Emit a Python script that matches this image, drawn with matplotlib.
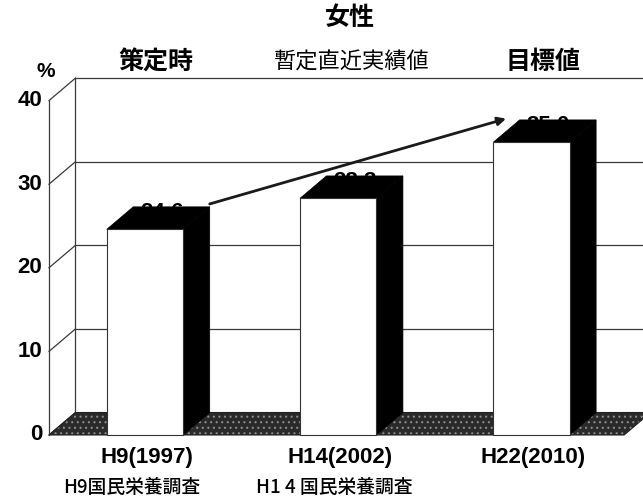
import matplotlib
matplotlib.use("Agg")
import matplotlib.pyplot as plt
from matplotlib.patches import Polygon, Rectangle

# ---- data -------------------------------------------------------------
categories = ["H9(1997)", "H14(2002)", "H22(2010)"]
values = [24.6, 28.3, 35.0]
value_labels = ["24.6", "28.3", "35.0"]
stage_labels = ["策定時", "暫定直近実績値", "目標値"]
survey_labels = ["H9国民栄養調査", "H1 4 国民栄養調査", ""]
y_ticks = [0, 10, 20, 30, 40]
title = "女性"

# ---- fonts ------------------------------------------------------------
JP = ["Noto Sans CJK JP", "DejaVu Sans"]
NUM = ["Liberation Sans", "DejaVu Sans"]
plt.rcParams["hatch.linewidth"] = 0.8

# ---- pseudo-3D layout (data units) ------------------------------------
W, H = 643, 497
fig = plt.figure(figsize=(W / 100, H / 100), dpi=100)
ax = fig.add_axes([0, 0, 1, 1])
ax.axis("off")

step_px, x0_px = 193.2, 145.0          # pixels per category, category 0 position
unit_px, y0_px = 8.36, 435.0           # pixels per value unit, baseline position
ax.set_xlim(-x0_px / step_px, (W - x0_px) / step_px)
ax.set_ylim((y0_px - H) / unit_px, y0_px / unit_px)

DX, DY = 0.137, 2.69                   # depth offset
HALF = 0.198                           # half bar width
XL, XR = -0.497, 2.48                  # front wall / floor extent
YMAX = y_ticks[-1]
FAR = 3.0
grid_kw = dict(color="#3a3a3a", lw=0.9, zorder=1)

# back wall and left side wall
for v in y_ticks:
    ax.plot([XL + DX, FAR], [v + DY, v + DY], **grid_kw)
    ax.plot([XL, XL + DX], [v, v + DY], **grid_kw)
ax.plot([XL, XL], [0, YMAX], **grid_kw)
ax.plot([XL + DX, XL + DX], [DY, YMAX + DY], **grid_kw)

# floor
floor = [(XL, 0), (XR, 0), (XR + DX, DY), (XL + DX, DY)]
ax.add_patch(Polygon(floor, closed=True, facecolor="#2a2a2a",
                     edgecolor="#8c8c8c", hatch="...", lw=0, zorder=2))
ax.add_patch(Polygon(floor, closed=True, fill=False,
                     edgecolor="#222222", lw=0.8, zorder=2))

# bars
for i, v in enumerate(values):
    l, r = i - HALF, i + HALF
    side = [(r, 0), (r + DX, DY), (r + DX, v + DY), (r, v)]
    top = [(l, v), (r, v), (r + DX, v + DY), (l + DX, v + DY)]
    ax.text(i + DX / 2 + 0.02, v + DY - 1.35, value_labels[i], ha="center",
            va="baseline", fontsize=16, fontweight="bold", family=NUM,
            color="black", zorder=2.5)
    ax.add_patch(Polygon(side, closed=True, facecolor="black",
                         edgecolor="black", lw=0.5, zorder=3))
    ax.add_patch(Polygon(top, closed=True, facecolor="black",
                         edgecolor="black", lw=0.5, zorder=3))
    ax.add_patch(Rectangle((l, 0), 2 * HALF, v, facecolor="white",
                           edgecolor="#333333", lw=0.8, zorder=4))

# trend arrow
ax.annotate("", xy=(2 - HALF + DX - 0.07, values[2] + DY + 0.15),
            xytext=(0 + HALF + DX, values[0] + DY + 0.35),
            arrowprops=dict(arrowstyle="-|>", color="#1a1a1a", lw=2.0,
                            mutation_scale=12, shrinkA=0, shrinkB=0),
            zorder=6)

# y tick labels and unit
for v in y_ticks:
    ax.text(XL - 0.035, v, str(v), ha="right", va="center", fontsize=16,
            fontweight="bold", family=NUM)
ax.text(XL - 0.015, YMAX + 3.5, "%", ha="center", va="center",
        fontsize=15, fontweight="bold", family=NUM)

# stage headers
for i, s in enumerate(stage_labels):
    small = len(s) > 3
    ax.text(i + DX / 2 - (0.0 if small else 0.01), YMAX + DY + 1.9, s,
            ha="center", va="center", family=JP,
            fontsize=16 if small else 18,
            fontweight="normal" if small else "bold")

# category labels and survey notes
for i, c in enumerate(categories):
    ax.text(i + 0.01, -2.75, c, ha="center", va="center", fontsize=16,
            fontweight="bold", family=NUM)
    if survey_labels[i]:
        ax.text(i - 0.425, -6.25, survey_labels[i], ha="left", va="center",
                fontsize=13.5, family=JP, fontweight="medium")

fig.text(350 / W, 1 - 18 / H, title, ha="center", va="center",
         fontsize=18, fontweight="bold", family=JP)

fig.savefig("out.png", dpi=100, facecolor="white")
